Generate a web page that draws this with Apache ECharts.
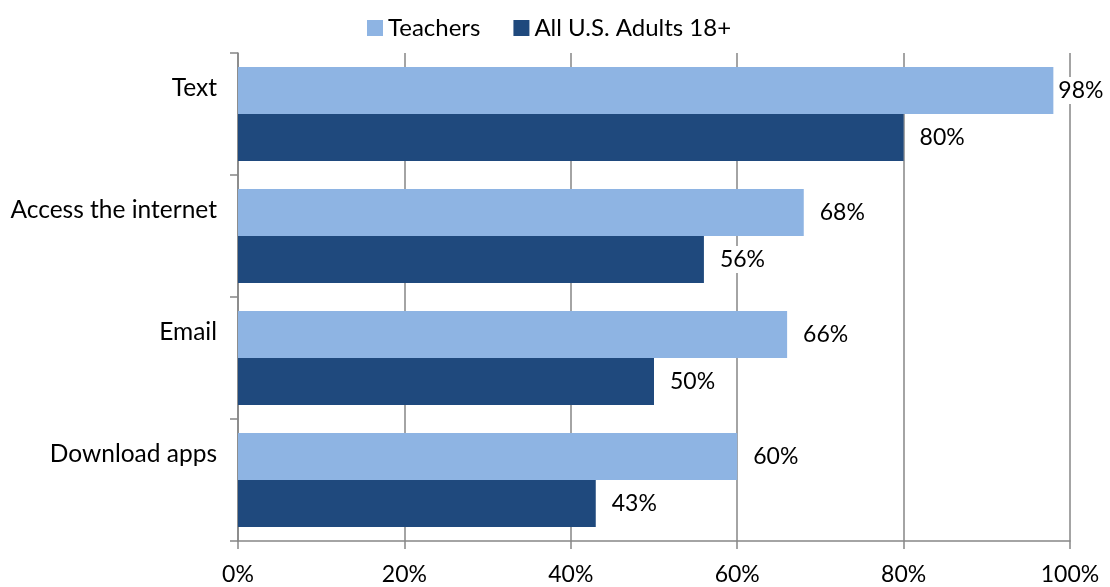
<!DOCTYPE html>
<html>
<head>
<meta charset="utf-8">
<style>
  html, body { margin: 0; padding: 0; background: #fff; }
  #chart { width: 1110px; height: 587px; }
</style>
<script src="https://cdn.jsdelivr.net/npm/echarts@6/dist/echarts.min.js"></script>
</head>
<body>
<div id="chart"></div>
<script>
const categories = ['Text', 'Access the internet', 'Email', 'Download apps']
const teachers = [98, 68, 66, 60]
const adults = [80, 56, 50, 43]
const seriesNames = ['Teachers', 'All U.S. Adults 18+']

const FONT = 'Lato, "Liberation Sans", sans-serif'
const AXIS_GRAY = '#868686'

const chart = echarts.init(document.getElementById('chart'), null, { renderer: 'canvas' })

const valueLabel = {
  show: true,
  position: 'right',
  distance: 12,
  formatter: '{c}%',
  color: '#000',
  fontFamily: FONT,
  fontSize: 23,
  backgroundColor: '#fff',
  padding: [2, 4]
}

// labels near the right edge get pulled in so they stay inside the page
const withLabelFit = arr => arr.map(v => (v > 95 ? { value: v, label: { distance: 4, padding: [2, 1] } } : v))

chart.setOption({
  animation: false,
  textStyle: { fontFamily: FONT },
  legend: {
    top: 11,
    left: 362,
    itemWidth: 16,
    itemHeight: 16,
    itemGap: 33,
    icon: 'rect',
    textStyle: { fontFamily: FONT, fontSize: 24, color: '#000' },
    data: seriesNames
  },
  grid: { left: 238, right: 40, top: 53, bottom: 46 },
  xAxis: {
    type: 'value',
    min: 0,
    max: 100,
    interval: 20,
    axisLine: { show: true, lineStyle: { color: AXIS_GRAY, width: 1.5 } },
    axisTick: { show: true, length: 8, lineStyle: { color: AXIS_GRAY, width: 1.5 } },
    splitLine: { show: true, lineStyle: { color: AXIS_GRAY, width: 1.5 } },
    axisLabel: { formatter: '{value}%', color: '#000', fontFamily: FONT, fontSize: 23, margin: 22 }
  },
  yAxis: {
    type: 'category',
    inverse: true,
    data: categories,
    axisLine: { show: true, lineStyle: { color: AXIS_GRAY, width: 1.5 } },
    axisTick: { show: true, length: 8, lineStyle: { color: AXIS_GRAY, width: 1.5 } },
    axisLabel: {
      color: '#000',
      fontFamily: FONT,
      fontSize: 24.5,
      margin: 21,
      verticalAlign: 'bottom',
      lineHeight: 52
    }
  },
  series: [
    {
      name: seriesNames[0],
      type: 'bar',
      data: withLabelFit(teachers),
      barGap: '0%',
      barCategoryGap: '23%',
      itemStyle: { color: '#8EB4E3' },
      label: valueLabel
    },
    {
      name: seriesNames[1],
      type: 'bar',
      data: withLabelFit(adults),
      barGap: '0%',
      barCategoryGap: '23%',
      itemStyle: { color: '#1F497D' },
      label: valueLabel
    }
  ]
})
</script>
</body>
</html>
